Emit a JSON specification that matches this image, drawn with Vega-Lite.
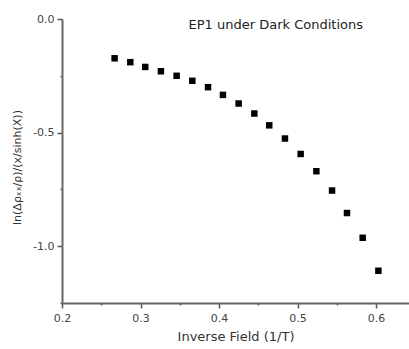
{
  "$schema": "https://vega.github.io/schema/vega-lite/v6.json",
  "autosize": "none",
  "width": 347,
  "height": 284,
  "padding": {"left": 62, "top": 19, "right": 0, "bottom": 46},
  "background": "white",
  "config": {
    "view": {"stroke": null},
    "font": "DejaVu Sans",
    "axis": {"grid": false, "domainColor": "#666", "domainWidth": 2, "tickColor": "#555", "tickWidth": 1.5, "labelColor": "#444", "labelFontSize": 11, "titleFontSize": 13, "titleFontWeight": "normal", "titleColor": "#333", "labelFont": "DejaVu Sans", "titleFont": "DejaVu Sans"}
  },
  "title": {"text": "EP1 under Dark Conditions", "anchor": "end", "frame": "group", "offset": -28.5, "baseline": "alphabetic", "dx": -46, "fontSize": 13, "fontWeight": "normal", "color": "#222", "font": "DejaVu Sans"},
  "data": {"values": [
    {"x": 0.267, "y": -0.173},
    {"x": 0.287, "y": -0.190},
    {"x": 0.306, "y": -0.211},
    {"x": 0.326, "y": -0.230},
    {"x": 0.346, "y": -0.250},
    {"x": 0.366, "y": -0.272},
    {"x": 0.386, "y": -0.300},
    {"x": 0.405, "y": -0.334},
    {"x": 0.425, "y": -0.372},
    {"x": 0.445, "y": -0.416},
    {"x": 0.464, "y": -0.468},
    {"x": 0.484, "y": -0.526},
    {"x": 0.504, "y": -0.594},
    {"x": 0.524, "y": -0.670},
    {"x": 0.544, "y": -0.755},
    {"x": 0.563, "y": -0.854},
    {"x": 0.583, "y": -0.963},
    {"x": 0.603, "y": -1.108}
  ]},
  "mark": {"type": "square", "size": 42, "color": "black", "opacity": 1},
  "encoding": {
    "x": {"field": "x", "type": "quantitative", "scale": {"domain": [0.2, 0.642], "nice": false, "zero": false},
      "axis": {"title": "Inverse Field (1/T)", "values": [0.2, 0.25, 0.3, 0.35, 0.4, 0.45, 0.5, 0.55, 0.6],
        "labelExpr": "abs(datum.value*10 - round(datum.value*10)) > 0.01 ? '' : format(datum.value, '.1f')",
        "tickSize": {"condition": {"test": "abs(datum.value*10 - round(datum.value*10)) > 0.01", "value": 2}, "value": 5},
        "labelPadding": 4, "titlePadding": 7, "labelFlush": false}},
    "y": {"field": "y", "type": "quantitative", "scale": {"domain": [-1.25, 0], "nice": false, "zero": false},
      "axis": {"title": "ln(Δρₓₓ/ρ)/(x/sinh(X))", "titleFontSize": 11, "values": [0, -0.25, -0.5, -0.75, -1.0, -1.25],
        "labelExpr": "abs(datum.value*2 - round(datum.value*2)) > 0.01 ? '' : replace(format(datum.value, '.1f'), '−', '-')",
        "tickSize": {"condition": {"test": "abs(datum.value*2 - round(datum.value*2)) > 0.01", "value": 2}, "value": 5},
        "labelPadding": 3, "titlePadding": 10, "labelFlush": false, "titleY": 148, "titleAlign": "center"}}
  }
}
